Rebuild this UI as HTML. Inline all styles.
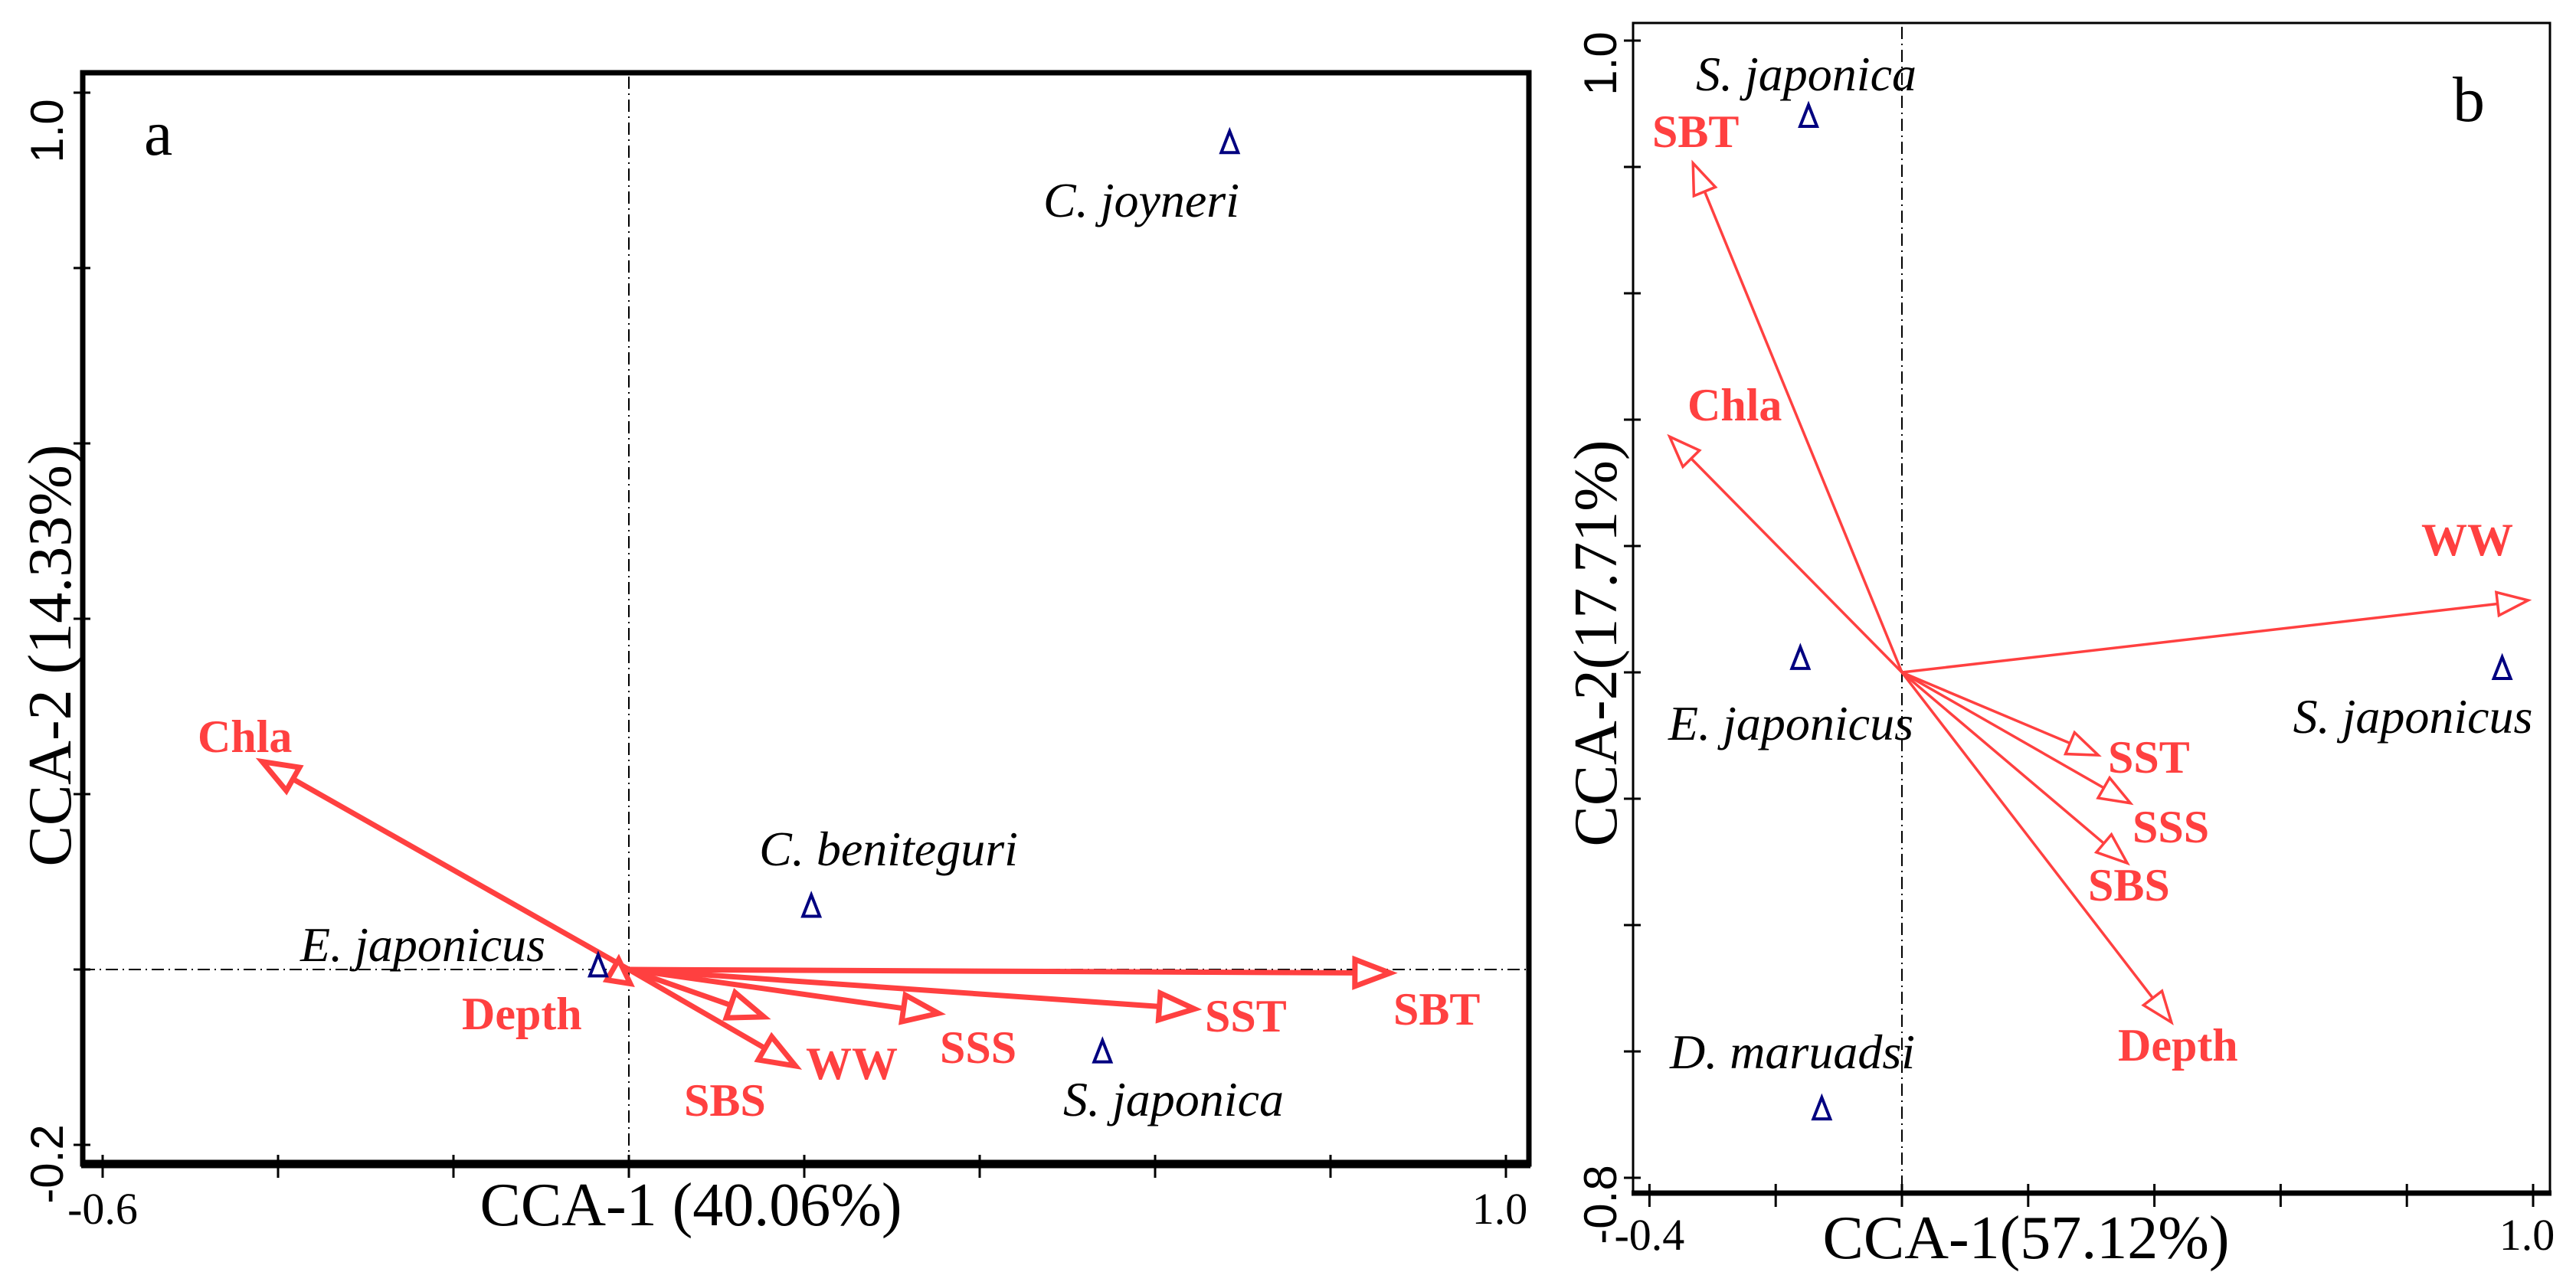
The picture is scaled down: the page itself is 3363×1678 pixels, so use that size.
<!DOCTYPE html>
<html><head><meta charset="utf-8"><style>
html,body{margin:0;padding:0;background:#fff;}
svg{display:block;}
text{font-family:"Liberation Serif",serif;}
</style></head><body>
<svg id="chart" width="3363" height="1678" viewBox="0 0 3363 1678" xmlns="http://www.w3.org/2000/svg"></svg>
<script>
// ---- Panel a data ----
const aEnvNames = ["Chla","SBT","SST","SSS","WW","SBS","Depth"];
const aEnvX = [-0.418, 0.868, 0.645, 0.353, 0.19, 0.154, -0.025];
const aEnvY = [0.237, -0.004, -0.045, -0.05, -0.11, -0.054, -0.012];
const aSpNames = ["E. japonicus","C. beniteguri","S. japonica","C. joyneri"];
const aSpX = [-0.035, 0.208, 0.54, 0.685];
const aSpY = [0.004, 0.072, -0.094, 0.943];
const aXTicks = [-0.6,-0.4,-0.2,0,0.2,0.4,0.6,0.8,1.0];
const aYTicks = [-0.2,0,0.2,0.4,0.6,0.8,1.0];
// ---- Panel b data ----
const bEnvNames = ["SBT","Chla","WW","SST","SSS","SBS","Depth"];
const bEnvX = [-0.331, -0.368, 0.992, 0.311, 0.362, 0.357, 0.427];
const bEnvY = [0.806, 0.373, 0.114, -0.131, -0.207, -0.302, -0.554];
const bSpNames = ["S. japonica","E. japonicus","S. japonicus","D. maruadsi"];
const bSpX = [-0.148, -0.161, 0.951, -0.127];
const bSpY = [0.88, 0.022, 0.006, -0.691];
const bXTicks = [-0.4,-0.2,0,0.2,0.4,0.6,0.8,1.0];
const bYTicks = [-0.8,-0.6,-0.4,-0.2,0,0.2,0.4,0.6,0.8,1.0];

const NS="http://www.w3.org/2000/svg";
const svg=document.getElementById('chart');
function mk(tag,attrs,parent){const e=document.createElementNS(NS,tag);for(const k in attrs)e.setAttribute(k,attrs[k]);(parent||svg).appendChild(e);return e;}

function panel(cfg){
  const g=mk('g',{});
  
  
  const sx=v=>cfg.x0+v*cfg.kx, sy=v=>cfg.y0-v*cfg.ky;
  const vl=mk('line',{x1:sx(0),x2:sx(0),y1:cfg.top+5,y2:cfg.bottom,stroke:'#000','stroke-width':2,'stroke-dasharray':'16 6 2 6'},g);
  
  
  if(cfg.hline){
    const hl=mk('line',{x1:cfg.left,x2:cfg.right,y1:sy(0),y2:sy(0),stroke:'#000','stroke-width':2,'stroke-dasharray':'16 6 2 6'},g);
    
    
  }
  const fr=mk('rect',{x:cfg.left,y:cfg.top,width:cfg.right-cfg.left,height:cfg.bottom-cfg.top,fill:'none',stroke:'#000','stroke-width':cfg.bw},g);
  
  
  const xa=mk('line',{x1:cfg.left-2,x2:cfg.right+2,y1:cfg.bottom,y2:cfg.bottom,stroke:'#000','stroke-width':cfg.bw+4},g);
  
  
  cfg.xt.forEach(t=>{const l=mk('line',{x1:sx(t),x2:sx(t),y1:cfg.bottom-12,y2:cfg.bottom+18,stroke:'#000','stroke-width':3},g);
    
    });
  cfg.yt.forEach(t=>{const l=mk('line',{x1:cfg.left-12,x2:cfg.left+10,y1:sy(t),y2:sy(t),stroke:'#000','stroke-width':3},g);
    
    });
  const xmin=cfg.xt[0], xmax=cfg.xt[cfg.xt.length-1];
  const t1=mk('text',{x:sx(xmin),y:cfg.xlabY,'font-size':58,'text-anchor':'middle'},g);t1.textContent=xmin.toFixed(1);
  
  
  const t2=mk('text',{x:sx(xmax)-8,y:cfg.xlabY,'font-size':58,'text-anchor':'middle'},g);t2.textContent=xmax.toFixed(1);
  
  
  const ymin=cfg.yt[0], ymax=cfg.yt[cfg.yt.length-1];
  [[ymax,'y-tick-label-max',cfg.ymaxOff],[ymin,'y-tick-label-min',cfg.yminOff]].forEach(([v,n,off])=>{
    const cy=sy(v)+off;
    const t=mk('text',{x:0,y:0,'font-size':60,'text-anchor':'middle',transform:`translate(${cfg.ylabX},${cy}) rotate(-90)`,style:'font-family:"Liberation Sans",sans-serif'},g);
    t.textContent=v.toFixed(1);
    
    
  });
  const xt=mk('text',{x:cfg.xTitleX,y:cfg.xTitleY,'font-size':80,'text-anchor':'middle'},g);xt.textContent=cfg.xTitle;
  
  
  const yt=mk('text',{x:0,y:0,'font-size':80,'text-anchor':'middle',transform:`translate(${cfg.yTitleX},${cfg.yTitleY}) rotate(-90)`},g);yt.textContent=cfg.yTitle;
  
  
  const pl=mk('text',{x:cfg.plX,y:cfg.plY,'font-size':84},g);pl.textContent=cfg.pl;
  
  
  cfg.envN.forEach((n,i)=>{
    const x1=sx(0),y1=sy(0),x2=sx(cfg.envX[i]),y2=sy(cfg.envY[i]);
    const ag=mk('g',{},g);
    
    
    const dx=x2-x1,dy=y2-y1,L=Math.hypot(dx,dy)||1,ux=dx/L,uy=dy/L;
    const hl=Math.min(cfg.head,L*0.8),hw=cfg.head*0.38;
    const bx=x2-ux*hl,by=y2-uy*hl;
    mk('line',{x1:x1,y1:y1,x2:bx,y2:by,stroke:'#ff4040','stroke-width':cfg.aw},ag);
    mk('polygon',{points:`${x2},${y2} ${bx-uy*hw},${by+ux*hw} ${bx+uy*hw},${by-ux*hw}`,fill:'#fff',stroke:'#ff4040','stroke-width':cfg.aw},ag);
    const lp=cfg.envLab[i];
    const t=mk('text',{x:lp[0],y:lp[1],'font-size':60,'font-weight':'bold',fill:'#ff4040'},g);
    t.textContent=n;
    
    
  });
  cfg.spN.forEach((n,i)=>{
    const x=sx(cfg.spX[i]),y=sy(cfg.spY[i]);
    const p=mk('polygon',{points:`${x},${y-15} ${x-11},${y+13} ${x+11},${y+13}`,fill:'#fff',stroke:'#000080','stroke-width':4},g);
    
    
    const lp=cfg.spLab[i];
    const t=mk('text',{x:lp[0],y:lp[1],'font-size':64,'font-style':'italic','text-anchor':lp[2]},g);
    t.textContent=n;
    
    
  });
}

panel({id:'panel-a',x0:821,y0:1266,kx:1145,ky:1145,left:108,top:95,right:1996,bottom:1520,bw:7,hline:true,
  xt:aXTicks,yt:aYTicks,xlabY:1598,ylabX:82,ymaxOff:50,yminOff:25,
  xTitle:'CCA-1 (40.06%)',xTitleX:902,xTitleY:1600,yTitle:'CCA-2 (14.33%)',yTitleX:92,yTitleY:856,
  pl:'a',plX:188,plY:202,aw:7,head:46,
  envN:aEnvNames,envX:aEnvX,envY:aEnvY,
  envLab:[[258,982],[1819,1338],[1573,1347],[1227,1388],[1052,1409],[893,1457],[603,1344]],
  spN:aSpNames,spX:aSpX,spY:aSpY,
  spLab:[[712,1255,'end'],[1160,1130,'middle'],[1532,1457,'middle'],[1490,283,'middle']]});

panel({id:'panel-b',x0:2483,y0:878,kx:824,ky:825,left:2132,top:30,right:3329,bottom:1558,bw:3,hline:false,
  xt:bXTicks,yt:bYTicks,xlabY:1632,ylabX:2110,ymaxOff:30,yminOff:35,
  xTitle:'CCA-1(57.12%)',xTitleX:2645,xTitleY:1643,yTitle:'CCA-2(17.71%)',yTitleX:2110,yTitleY:840,
  pl:'b',plX:3202,plY:158,aw:3.5,head:40,
  envN:bEnvNames,envX:bEnvX,envY:bEnvY,
  envLab:[[2157,192],[2203,549],[3161,725],[2752,1009],[2784,1100],[2726,1176],[2765,1385]],
  spN:bSpNames,spX:bSpX,spY:bSpY,
  spLab:[[2358,118,'middle'],[2338,966,'middle'],[3150,957,'middle'],[2340,1395,'middle']]});
</script>
</body></html>
